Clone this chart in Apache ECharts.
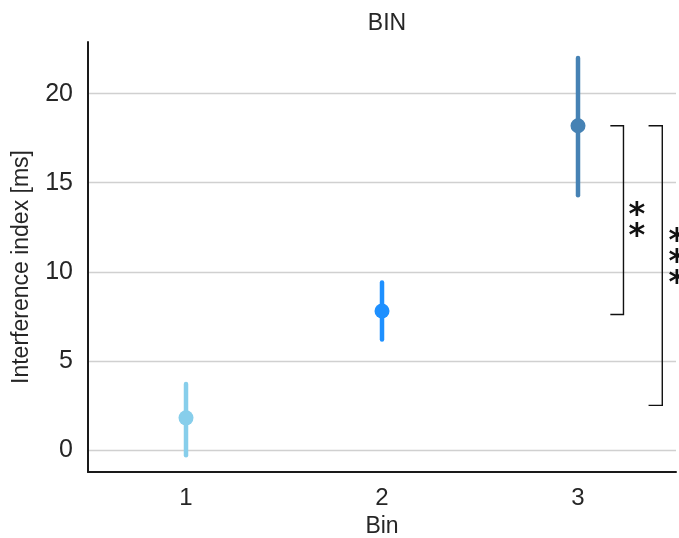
<!DOCTYPE html>
<html>
<head>
<meta charset="utf-8">
<script src="https://cdn.jsdelivr.net/npm/echarts@6/dist/echarts.min.js"></script>
<style>html,body{margin:0;padding:0;background:#fff}#c{width:679px;height:538px}</style>
</head>
<body>
<div id="c"></div>
<script>
const categories = ['1', '2', '3'];
const means = [1.8, 7.8, 18.2];
const ciLow = [-0.3, 6.2, 14.3];
const ciHigh = [3.7, 9.4, 22.0];
const yTicks = [0, 5, 10, 15, 20];
const bracketLow = [7.6, 2.5];
const bracketHigh = [18.2, 18.2];
const bracketLabels = ['*\n*', '*\n*\n*'];
const bracketAnchor = [2, 2];

const pointColors = ['#87CEEB', '#1E90FF', '#4682B4'];
const bracketOffsets = [[0.165, 0.232, 0.30, 6], [0.36, 0.43, 0.505, -3]];

const chart = echarts.init(document.getElementById('c'), null, {renderer: 'canvas'});
const font = 'Liberation Sans, Arial, sans-serif';

const errData = categories.map((c, i) => [i, ciLow[i], ciHigh[i], means[i]]);
const bracketData = bracketLow.map((lo, i) => [bracketAnchor[i], lo, bracketHigh[i], i]);

chart.setOption({
  animation: false,
  title: {
    text: 'BIN', left: 382, top: 7, textAlign: 'center',
    textStyle: {fontFamily: font, fontSize: 23, fontWeight: 'normal', color: '#262626'}
  },
  grid: {left: 88, right: 3, top: 42, bottom: 66, containLabel: false, outerBoundsMode: 'none'},
  xAxis: {
    type: 'category', data: categories, boundaryGap: true,
    name: 'Bin', nameLocation: 'middle', nameGap: 53,
    nameTextStyle: {fontFamily: font, fontSize: 23, color: '#262626', verticalAlign: 'middle'},
    axisLine: {show: true, onZero: false, lineStyle: {color: '#1a1a1a', width: 2}},
    axisTick: {show: false},
    axisLabel: {fontFamily: font, fontSize: 24, color: '#262626', margin: 14},
    splitLine: {show: false}
  },
  yAxis: {
    type: 'value', min: -1.24, max: 22.9,
    name: 'Interference index [ms]', nameLocation: 'middle', nameGap: 66, nameRotate: 90,
    nameTextStyle: {fontFamily: font, fontSize: 23, color: '#262626', verticalAlign: 'middle', padding: [0, 20, 0, 0]},
    axisLine: {show: true, onZero: false, lineStyle: {color: '#1a1a1a', width: 2}},
    axisTick: {show: false, customValues: yTicks},
    axisLabel: {fontFamily: font, fontSize: 25, color: '#262626', margin: 15, customValues: yTicks},
    splitLine: {show: true, lineStyle: {color: '#d0d0d0', width: 1.3}}
  },
  series: [
    {
      type: 'custom',
      data: errData,
      encode: {x: 0, y: [1, 2]},
      renderItem: function (params, api) {
        const i = api.value(0);
        const lo = api.coord([i, api.value(1)]);
        const hi = api.coord([i, api.value(2)]);
        const m = api.coord([i, api.value(3)]);
        const col = pointColors[i];
        return {
          type: 'group',
          children: [
            {type: 'line', shape: {x1: lo[0], y1: lo[1], x2: hi[0], y2: hi[1]},
             style: {stroke: col, lineWidth: 4.5, lineCap: 'round'}},
            {type: 'circle', shape: {cx: m[0], cy: m[1], r: 7.5}, style: {fill: col}}
          ]
        };
      },
      z: 3
    },
    {
      type: 'custom',
      data: bracketData,
      encode: {x: 0, y: [1, 2]},
      clip: false,
      renderItem: function (params, api) {
        const i = api.value(0);
        const k = api.value(3);
        const bw = api.size([1, 0])[0];
        const base = api.coord([i, api.value(1)]);
        const top = api.coord([i, api.value(2)]);
        const off = bracketOffsets[k];
        const x0 = base[0] + off[0] * bw, x1 = base[0] + off[1] * bw, xt = base[0] + off[2] * bw;
        return {
          type: 'group',
          children: [
            {type: 'polyline', shape: {points: [[x0, top[1]], [x1, top[1]], [x1, base[1]], [x0, base[1]]]},
             style: {stroke: '#111', lineWidth: 1.4, fill: null}},
            {type: 'text', x: xt, y: (top[1] + base[1]) / 2 + off[3],
             style: {text: bracketLabels[k], fontFamily: 'DejaVu Sans, sans-serif', fontSize: 32, fontWeight: 'bold',
                     lineHeight: 21, fill: '#111', align: 'center', verticalAlign: 'middle'}}
          ]
        };
      },
      z: 2
    }
  ]
});
</script>
</body>
</html>
